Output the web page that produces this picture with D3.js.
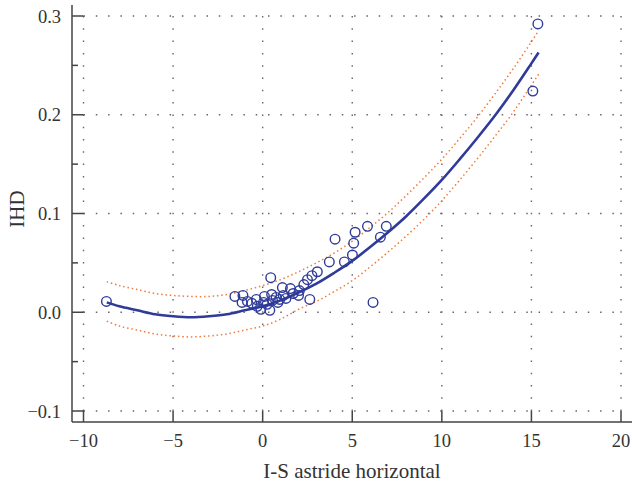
<!doctype html>
<html>
<head>
<meta charset="utf-8"/>
<title>IHD vs I-S astride horizontal</title>
<style>
body{margin:0;background:#fff;}
text{font-family:"Liberation Serif","DejaVu Serif",serif;fill:#333;}
</style>
<script src="https://d3js.org/d3.v7.min.js"></script>
</head>
<body>
<script type="text/javascript">
// observed points
var pointX = [-8.72,-1.55,-1.1,-1.15,-0.85,-0.6,-0.35,-0.3,-0.1,0.05,0.1,0.25,0.4,0.45,0.5,0.55,0.75,0.85,0.95,1.1,1.15,1.3,1.55,1.7,2.0,2.05,2.3,2.5,2.63,2.75,3.05,3.72,4.04,4.56,5.01,5.08,5.16,5.85,6.16,6.57,6.9,15.08,15.36];
var pointY = [0.011,0.016,0.017,0.010,0.011,0.009,0.013,0.006,0.003,0.010,0.016,0.008,0.002,0.035,0.018,0.012,0.015,0.010,0.013,0.025,0.017,0.014,0.024,0.019,0.017,0.022,0.028,0.033,0.013,0.037,0.041,0.051,0.074,0.051,0.058,0.070,0.081,0.087,0.010,0.076,0.087,0.224,0.292];

// fitted curve and its band
var fitX   = [-8.7,-8,-7,-6,-5,-4,-3,-2,-1,0,1,2,3,4,5,6,7,8,9,10,11,12,13,14,15,15.4];
var fitY   = [0.010,0.006,0.002,-0.002,-0.004,-0.005,-0.004,-0.002,0.002,0.006,0.012,0.020,0.029,0.040,0.052,0.066,0.081,0.097,0.115,0.134,0.155,0.177,0.200,0.225,0.252,0.263];
var upperY = [0.031,0.027,0.023,0.019,0.017,0.016,0.016,0.018,0.022,0.027,0.033,0.041,0.050,0.060,0.072,0.086,0.101,0.118,0.136,0.155,0.176,0.198,0.222,0.247,0.274,0.285];
var lowerY = [-0.009,-0.014,-0.018,-0.022,-0.024,-0.025,-0.024,-0.022,-0.018,-0.014,-0.007,0.003,0.011,0.021,0.032,0.046,0.061,0.077,0.094,0.113,0.134,0.156,0.179,0.203,0.230,0.241];

var xTicks = [-10,-5,0,5,10,15,20];
var yTicks = [-0.1,0,0.1,0.2,0.3];
var yMinor = [-0.05,0.05,0.15,0.25];

var W = 632, H = 483;
var axisX = 72, axisY = 422;

var svg = d3.select("body").append("svg")
    .attr("width", W)
    .attr("height", H);

var x = d3.scaleLinear().domain([-10,20]).range([83.5,621]);
var y = d3.scaleLinear().domain([-0.1,0.3]).range([411,16]);

//grid
svg.selectAll(".gx").data(xTicks).enter().append("line")
    .attr("x1", function(d){return x(d)}).attr("x2", function(d){return x(d)})
    .attr("y1", y(0.3)).attr("y2", y(-0.1))
    .attr("stroke", "#666").attr("stroke-width", 1.4)
    .attr("stroke-dasharray", "1.5,10.8");
svg.selectAll(".gy").data(yTicks).enter().append("line")
    .attr("y1", function(d){return y(d)}).attr("y2", function(d){return y(d)})
    .attr("x1", x(-10)).attr("x2", x(20))
    .attr("stroke", "#666").attr("stroke-width", 1.4)
    .attr("stroke-dasharray", "1.5,10.8");

//axes
var ax = svg.append("g").attr("stroke", "#444").attr("stroke-width", 1.5);
ax.append("line").attr("x1", axisX).attr("x2", axisX).attr("y1", 5).attr("y2", axisY);
ax.append("line").attr("x1", axisX).attr("x2", W).attr("y1", axisY).attr("y2", axisY);
ax.selectAll(".ty").data(yTicks).enter().append("line")
    .attr("x1", axisX).attr("x2", x(-10))
    .attr("y1", function(d){return y(d)}).attr("y2", function(d){return y(d)});
ax.selectAll(".tym").data(yMinor).enter().append("line")
    .attr("x1", axisX).attr("x2", axisX+6)
    .attr("y1", function(d){return y(d)}).attr("y2", function(d){return y(d)});
ax.selectAll(".tx").data(xTicks).enter().append("line")
    .attr("x1", function(d){return x(d)}).attr("x2", function(d){return x(d)})
    .attr("y1", axisY).attr("y2", y(-0.1));

var fmtY = d3.format(".1f");
svg.selectAll(".ly").data(yTicks).enter().append("text")
    .attr("x", 61).attr("y", function(d){return y(d)+6.5})
    .attr("text-anchor", "end").attr("font-size", 18.5)
    .text(function(d){return fmtY(d).replace("-","\u2212")});
svg.selectAll(".lx").data(xTicks).enter().append("text")
    .attr("x", function(d){return x(d)}).attr("y", 446.5)
    .attr("text-anchor", "middle").attr("font-size", 18.5)
    .text(function(d){return String(d).replace("-","\u2212")});

svg.append("text").attr("x", 352).attr("y", 478)
    .attr("text-anchor", "middle").attr("font-size", 21)
    .text("I-S astride horizontal");
svg.append("text").attr("transform", "translate(24,209) rotate(-90)")
    .attr("text-anchor", "middle").attr("font-size", 21)
    .text("IHD");

//band and fit
function mkLine(ys){
    return d3.line()
        .x(function(d,i){return x(fitX[i])})
        .y(function(d,i){return y(ys[i])})
        .curve(d3.curveCatmullRom)(fitX);
}
svg.append("path").attr("d", mkLine(upperY))
    .attr("fill", "none").attr("stroke", "#f07b3a").attr("stroke-width", 1.5)
    .attr("stroke-dasharray", "1.5,2.8");
svg.append("path").attr("d", mkLine(lowerY))
    .attr("fill", "none").attr("stroke", "#f07b3a").attr("stroke-width", 1.5)
    .attr("stroke-dasharray", "1.5,2.8");
svg.append("path").attr("d", mkLine(fitY))
    .attr("fill", "none").attr("stroke", "#2f3b98").attr("stroke-width", 2.6);

//points
svg.selectAll(".pt").data(pointX).enter().append("circle")
    .attr("cx", function(d,i){return x(pointX[i])})
    .attr("cy", function(d,i){return y(pointY[i])})
    .attr("r", 4.8)
    .attr("fill", "none")
    .attr("stroke", "#2f3b98")
    .attr("stroke-width", 1.4);
</script>
</body>
</html>
